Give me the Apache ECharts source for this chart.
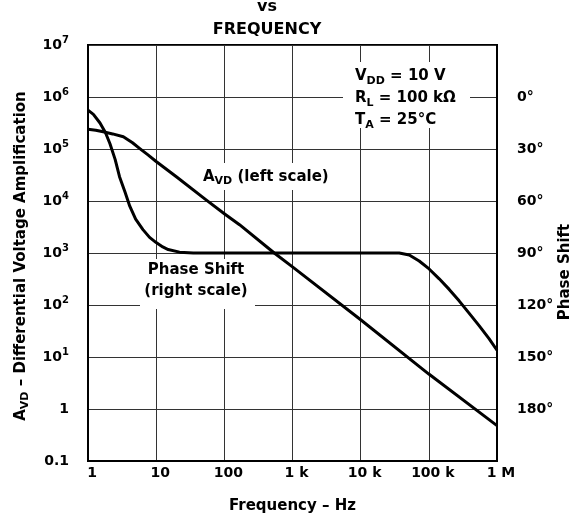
<!DOCTYPE html>
<html><head><meta charset="utf-8">
<script src="https://cdn.jsdelivr.net/npm/echarts@6/dist/echarts.min.js"></script>
<style>html,body{margin:0;padding:0;background:#fff}#c{width:573px;height:519px}</style>
</head><body><div id="c"></div>
<script>
// ---- data ----
const xTickLabels = ['1', '10', '100', '1 k', '10 k', '100 k', '1 M'];
const yLeftTickLabels = ['0.1', '1', '10{sup|1}', '10{sup|2}', '10{sup|3}', '10{sup|4}', '10{sup|5}', '10{sup|6}', '10{sup|7}'];
const phaseTickValues = [0, 30, 60, 90, 120, 150, 180];
const phaseTickLabels = ['0°', '30°', '60°', '90°', '120°', '150°', '180°'];

const avdFreq = [1, 1.3, 1.67, 2.3, 3.3, 4.5, 5.76, 7.5, 10, 20, 54, 100, 167, 540, 1000, 10000, 100000, 1000000];
const avdValues = [2.4e5, 2.3e5, 2.14e5, 1.95e5, 1.72e5, 1.32e5, 1.02e5, 7.8e4, 5.75e4, 2.9e4, 1.05e4, 5.7e3, 3.5e3, 1000, 540, 52, 4.7, 0.48];

const phaseFreq = [1, 1.2, 1.5, 1.8, 2.1, 2.5, 2.9, 3.5, 4.1, 5, 6.4, 8, 10, 12.5, 15, 22, 35, 1000, 10000, 36800, 51600, 72200, 101000, 142000, 199000, 278000, 389000, 546000, 764000, 1000000];
const phaseValues = [7.6, 10, 15, 20.5, 27, 36, 46, 55, 63, 70.5, 76.5, 81, 84, 86.5, 88, 89.5, 90, 90, 90, 90, 91.1, 94.6, 99.2, 104.9, 111, 117.6, 124.7, 131.9, 139.4, 146.1];

// ---- chart ----
const FONT = 'DejaVu Sans';
const F = (s) => 'bold ' + s + 'px "DejaVu Sans"';
const chart = echarts.init(document.getElementById('c'), null, {renderer: 'canvas'});
const pair = (xs, ys) => xs.map((x, i) => [x, ys[i]]);

chart.setOption({
  animation: false,
  backgroundColor: '#fff',
  textStyle: {fontFamily: FONT, fontWeight: 'bold', color: '#000'},
  grid: {left: 88, right: 76, top: 45, bottom: 57, show: true, borderColor: '#000', borderWidth: 2},
  xAxis: {
    type: 'log', logBase: 10, min: 1, max: 1e6,
    axisLine: {show: true, onZero: false, lineStyle: {color: '#000', width: 2}},
    axisTick: {show: false},
    splitLine: {show: true, lineStyle: {color: '#333', width: 1}},
    axisLabel: {
      margin: 5, fontSize: 14, fontWeight: 'bold', color: '#000', fontFamily: FONT, padding: [0, 0, 0, 8],
      formatter: v => xTickLabels[Math.round(Math.log10(v))] || ''
    },
    name: 'Frequency – Hz', nameLocation: 'middle', nameGap: 38,
    nameTextStyle: {fontSize: 15, fontWeight: 'bold', color: '#000', fontFamily: FONT}
  },
  yAxis: [{
    type: 'log', logBase: 10, min: 0.1, max: 1e7,
    axisLine: {show: true, onZero: false, lineStyle: {color: '#000', width: 2}},
    axisTick: {show: false},
    splitLine: {show: true, lineStyle: {color: '#333', width: 1}},
    axisLabel: {
      margin: 19, fontSize: 14, fontWeight: 'bold', color: '#000', fontFamily: FONT, lineHeight: 20,
      formatter: v => yLeftTickLabels[Math.round(Math.log10(v)) + 1] || '',
      rich: {sup: {fontSize: 10, fontWeight: 'bold', fontFamily: FONT, verticalAlign: 'top', lineHeight: 12, color: '#000'}}
    }
  }, {
    type: 'value', min: -30, max: 210, interval: 30, inverse: true, position: 'right',
    axisLine: {show: true, onZero: false, lineStyle: {color: '#000', width: 2}},
    axisTick: {show: false},
    splitLine: {show: false},
    axisLabel: {
      margin: 20, fontSize: 14, fontWeight: 'bold', color: '#000', fontFamily: FONT,
      formatter: v => { const i = phaseTickValues.indexOf(v); return i >= 0 ? phaseTickLabels[i] : ''; }
    }
  }],
  series: [{
    name: 'AVD', type: 'line', yAxisIndex: 0, data: pair(avdFreq, avdValues),
    smooth: false, showSymbol: false, symbol: 'none',
    lineStyle: {color: '#000', width: 3, join: 'round'}, z: 5
  }, {
    name: 'Phase', type: 'line', yAxisIndex: 1, data: pair(phaseFreq, phaseValues),
    smooth: false, showSymbol: false, symbol: 'none',
    lineStyle: {color: '#000', width: 3, join: 'round'}, z: 5
  }],
  graphic: [
    {type: 'text', z: 20, x: 267, y: 7, style: {text: 'vs', font: F(16), fill: '#000', align: 'center', verticalAlign: 'middle'}},
    {type: 'text', z: 20, x: 267, y: 30, style: {text: 'FREQUENCY', font: F(16), fill: '#000', align: 'center', verticalAlign: 'middle'}},
    // white boxes interrupting grid lines behind the annotations
    {type: 'rect', z: 10, shape: {x: 343, y: 62, width: 127, height: 66}, style: {fill: '#fff'}},
    {type: 'rect', z: 10, shape: {x: 199, y: 163, width: 136, height: 27}, style: {fill: '#fff'}},
    {type: 'rect', z: 10, shape: {x: 140, y: 259, width: 115, height: 50}, style: {fill: '#fff'}},
    // conditions
    {type: 'text', z: 20, x: 355, y: 65, style: {
      text: 'V{s|DD} = 10 V\nR{s|L} = 100 kΩ\nT{s|A} = 25°C', fill: '#000',
      font: F(15), lineHeight: 22,
      rich: {s: {font: F(11), verticalAlign: 'bottom', lineHeight: 22, fill: '#000'}}
    }},
    {type: 'text', z: 20, x: 203, y: 167, style: {
      text: 'A{s|VD} (left scale)', fill: '#000', font: F(15), lineHeight: 20,
      rich: {s: {font: F(11), verticalAlign: 'bottom', lineHeight: 20, fill: '#000'}}
    }},
    {type: 'text', z: 20, x: 196, y: 260, style: {
      text: 'Phase Shift\n(right scale)', fill: '#000', font: F(15), lineHeight: 21, align: 'center'
    }},
    // left axis title (rotated)
    {type: 'text', z: 20, x: 21, y: 256, rotation: Math.PI / 2, style: {
      text: 'A{s|VD} – Differential Voltage Amplification', fill: '#000', align: 'center', verticalAlign: 'middle',
      font: F(15), lineHeight: 20,
      rich: {s: {font: F(11), verticalAlign: 'bottom', lineHeight: 20, fill: '#000'}}
    }},
    // right axis title (rotated)
    {type: 'text', z: 20, x: 565, y: 272, rotation: Math.PI / 2, style: {
      text: 'Phase Shift', fill: '#000', align: 'center', verticalAlign: 'middle', font: F(15)
    }}
  ]
});
</script></body></html>
